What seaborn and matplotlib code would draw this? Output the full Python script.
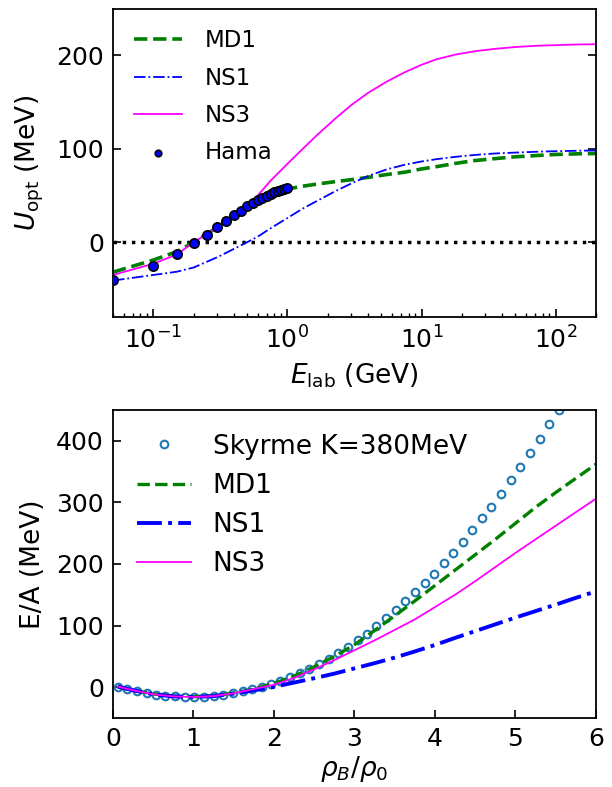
import numpy as np
import pandas as pd
import matplotlib
matplotlib.use('Agg')
import matplotlib.pyplot as plt
import seaborn as sns

## top panel: optical potential vs beam energy (GeV)
e_grid = [0.05, 0.1, 0.15, 0.2, 0.3, 0.4, 0.5, 0.6, 0.75, 1.0, 1.3, 1.7, 2.3, 3.0,
          4.0, 5.5, 7.5, 10, 13, 18, 25, 35, 50, 75, 100, 150, 200]
u_md1 = [-32, -19, -10, 0, 16, 29, 38, 45, 51.5, 57, 60, 62.5, 65, 67,
         69.5, 72.5, 75, 78.5, 81, 84.5, 87.5, 89.5, 91.5, 93, 94, 94.7, 95]
u_ns1 = [-41, -35, -31.5, -27, -16, -7, 0, 6, 15, 26, 36, 45, 55, 63,
         71, 78, 83, 86.5, 89, 91.5, 93.5, 95, 96, 97, 97.5, 98, 98.3]
u_ns3 = [-35, -23, -13, 0, 16, 29, 40, 50, 66, 84, 100, 116, 133, 147,
         160, 172, 182, 190, 196, 201, 204.5, 207, 209, 210.5, 211, 211.8, 212]
e_hama = [0.05, 0.1, 0.15, 0.2, 0.25, 0.3, 0.35, 0.4, 0.45, 0.5,
          0.55, 0.6, 0.65, 0.7, 0.75, 0.8, 0.85, 0.9, 0.95, 1.0]
u_hama = [-40.6, -25, -12.5, -1, 8, 16, 23, 29, 34, 38.5,
          42, 45, 47.8, 50, 51.7, 53.5, 55, 56, 57, 57.8]

## bottom panel: E/A vs rho_B/rho_0
rho_grid = [0.06, 0.25, 0.5, 0.75, 1.0, 1.25, 1.5, 1.75, 2.0, 2.25, 2.5, 2.75, 3.0,
            3.25, 3.5, 3.75, 4.0, 4.25, 4.5, 4.75, 5.0, 5.25, 5.5, 5.75, 6.0]
ea_md1 = [0, -5, -11, -14.5, -15.5, -14, -9.5, -3, 6, 18, 33, 50, 69,
          92, 116, 140, 165, 190, 215, 240, 266, 292, 316, 339, 362]
ea_ns1 = [1, -5, -11.5, -15, -16, -14.5, -10.5, -5, 0.5, 7.5, 14.5, 22, 30.5,
          39, 48, 58, 68.5, 80, 91, 102, 113, 123.5, 134, 145, 155.5]
ea_ns3 = [1, -5, -11.5, -15, -16, -14.5, -10, -3, 4, 15, 29, 44, 60,
          76, 93, 110, 130, 150, 172, 195, 218, 240, 262, 284, 306]
rho_sky = [0.06, 0.18, 0.30, 0.42, 0.54, 0.65, 0.77, 0.89, 1.01, 1.13, 1.25, 1.37,
           1.49, 1.61, 1.73, 1.85, 1.96, 2.08, 2.20, 2.32, 2.44, 2.56, 2.68, 2.80,
           2.92, 3.04, 3.16, 3.27, 3.39, 3.51, 3.63, 3.75, 3.87, 3.99, 4.11, 4.23,
           4.35, 4.46, 4.58, 4.70, 4.82, 4.94, 5.06, 5.18, 5.30, 5.42, 5.54]
ea_sky = [0, -3.5, -7, -10, -12, -13.8, -15, -15.5, -16, -15.5, -14, -12,
          -9.5, -6.5, -3, 1, 5.5, 10.5, 16, 22.5, 29.5, 37.5, 46.5, 55.7,
          65.5, 76.2, 87, 98.9, 112.4, 125.4, 139.4, 154, 169, 183, 201, 217.8,
          235.6, 254.5, 274, 293, 314, 335.5, 357, 380, 403, 427, 450]

plt.rcParams['font.family'] = ['DejaVu Sans']
plt.rcParams['axes.linewidth'] = 1.3

fig = plt.figure(figsize=(6.12, 7.87), dpi=100)
ax1 = fig.add_axes([0.1846, 0.5972, 0.7892, 0.3917])
ax2 = fig.add_axes([0.1846, 0.0877, 0.7892, 0.3914])

# --- top
ax1.set_xscale('log')
ax1.axhline(0, color='black', linestyle=':', lw=2.5, zorder=1)
sns.lineplot(x=e_grid, y=u_md1, ax=ax1, color='green', linestyle='--', lw=2.6, label='MD1')
sns.lineplot(x=e_grid, y=u_ns1, ax=ax1, color='blue', linestyle='-.', lw=1.3, label='NS1')
sns.lineplot(x=e_grid, y=u_ns3, ax=ax1, color='magenta', linestyle='-', lw=1.3, label='NS3')
sns.scatterplot(x=e_hama, y=u_hama, ax=ax1, s=45, color='blue', edgecolor='black',
                linewidth=1.2, label='Hama', zorder=5)
ax1.set_xlim(0.05, 200)
ax1.set_ylim(-80, 250)
ax1.set_yticks([0, 100, 200])
ax1.set_xlabel(r'$E_{\rm lab}$ (GeV)', fontsize=19, labelpad=6)
ax1.set_ylabel(r'$U_{\rm opt}$ (MeV)', fontsize=19, labelpad=7)
ax1.tick_params(which='major', direction='in', length=6, width=1.2, labelsize=18,
                pad=6.5, right=True)
ax1.tick_params(which='minor', direction='in', length=3, width=1.0)
ax1.legend(loc='upper left', frameon=False, fontsize=16.5, handlelength=2.1,
           handletextpad=1.0, labelspacing=0.62, markerscale=0.7)

# --- bottom
sns.lineplot(x=rho_sky, y=ea_sky, ax=ax2, color='C0', linestyle='', marker='o', ms=5.5,
             mfc='none', mec='C0', mew=1.5, label='Skyrme K=380MeV')
sns.lineplot(x=rho_grid, y=ea_md1, ax=ax2, color='green', linestyle='--', lw=2.4, label='MD1')
sns.lineplot(x=rho_grid, y=ea_ns1, ax=ax2, color='blue', linestyle='-.', lw=2.8, label='NS1')
sns.lineplot(x=rho_grid, y=ea_ns3, ax=ax2, color='magenta', linestyle='-', lw=1.3, label='NS3')
ax2.set_xlim(0, 6)
ax2.set_ylim(-50, 450)
ax2.set_yticks([0, 100, 200, 300, 400])
ax2.set_xlabel(r'$\rho_B/\rho_0$', fontsize=19, labelpad=2)
ax2.set_ylabel('E/A (MeV)', fontsize=19, labelpad=7)
ax2.tick_params(direction='in', length=6, width=1.2, labelsize=18, pad=6.5)
ax2.legend(loc='upper left', frameon=False, fontsize=19, handlelength=2.05,
           handletextpad=0.83, labelspacing=0.5)

fig.savefig('out.png', dpi=100)
